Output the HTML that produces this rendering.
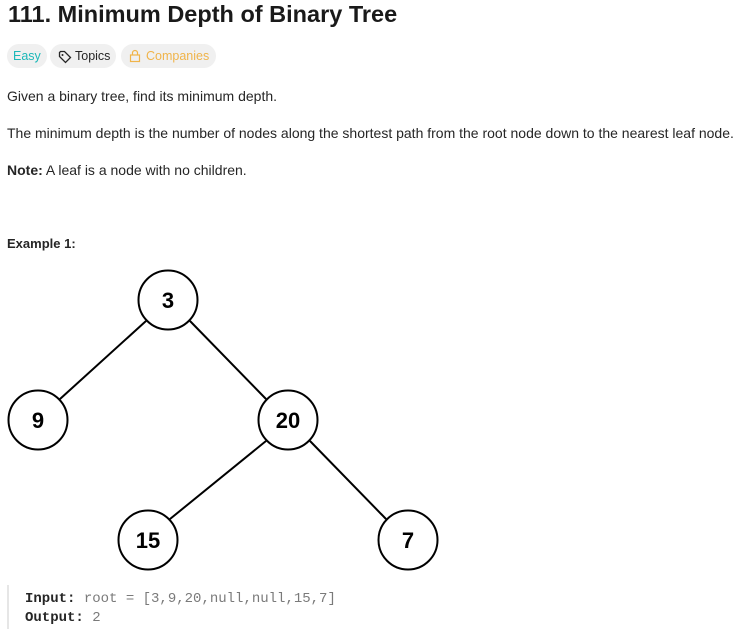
<!DOCTYPE html>
<html><head><style>
body{margin:0;width:752px;height:643px;background:#fff;font-family:"Liberation Sans",sans-serif;color:#262626;position:relative;overflow:hidden}
.a{position:absolute;white-space:nowrap}
.t{left:8px;top:1px;font-size:23.5px;font-weight:bold;color:#1a1a1a}
.b{top:44px;height:24px;border-radius:12px;background:#f0f0f0;font-size:12.5px;line-height:24px;padding:0 8px}
.x{font-size:14px}
.m{font-family:"Liberation Mono",monospace;font-size:14px}
</style></head><body>
<div class="a t">111. Minimum Depth of Binary Tree</div>
<div class="a b" style="left:7px;color:#1cb8b8;padding:0 6px">Easy</div>
<div class="a b" style="left:50px;color:#262626;padding-left:25px;padding-right:6px">Topics</div>
<svg class="a" style="left:58px;top:50px" width="14" height="14" viewBox="0 0 14 14"><path d="M1.5 2.5v4l6 6 5-5-6-6h-4z" fill="none" stroke="#262626" stroke-width="1.3"/><circle cx="4.5" cy="5" r="1" fill="#262626"/></svg>
<div class="a b" style="left:121px;color:#f0b44a;padding-left:25px;padding-right:7px">Companies</div>
<svg class="a" style="left:129px;top:49px" width="12" height="14" viewBox="0 0 12 14"><rect x="1.5" y="6" width="9" height="6.5" fill="none" stroke="#f0b44a" stroke-width="1.2"/><path d="M3.5 6V4a2.5 2.5 0 0 1 5 0v2" fill="none" stroke="#f0b44a" stroke-width="1.2"/></svg>
<div class="a x" style="left:7px;top:88px">Given a binary tree, find its minimum depth.</div>
<div class="a x" style="left:7px;top:125px">The minimum depth is the number of nodes along the shortest path from the root node down to the nearest leaf node.</div>
<div class="a x" style="left:7px;top:162px"><b>Note:</b> A leaf is a node with no children.</div>
<div class="a" style="left:7px;top:236px;font-size:13px;font-weight:bold">Example 1:</div>
<svg class="a" style="left:0;top:260px" width="460" height="320">
<g stroke="#000" stroke-width="2" fill="none">
<line x1="146" y1="61" x2="60" y2="139"/><line x1="190" y1="61" x2="266" y2="139"/>
<line x1="266" y1="181" x2="170" y2="259"/><line x1="310" y1="181" x2="386" y2="259"/>
<g fill="#fff"><circle cx="168" cy="40" r="29.5"/><circle cx="38" cy="160" r="29.5"/><circle cx="288" cy="160" r="29.5"/><circle cx="148" cy="280" r="29.5"/><circle cx="408" cy="280" r="29.5"/></g>
</g>
<g font-family="Liberation Sans" font-weight="bold" font-size="22" text-anchor="middle" fill="#000">
<text x="168" y="48">3</text><text x="38" y="168">9</text><text x="288" y="168">20</text><text x="148" y="288">15</text><text x="408" y="288">7</text></g>
</svg>
<div class="a" style="left:7px;top:585px;width:2px;height:44px;background:#e6e6e6"></div>
<div class="a m" style="left:25px;top:591px;color:#7a7a7a"><b style="color:#262626">Input:</b> root = [3,9,20,null,null,15,7]</div>
<div class="a m" style="left:25px;top:610px;color:#7a7a7a"><b style="color:#262626">Output:</b> 2</div>
</body></html>
